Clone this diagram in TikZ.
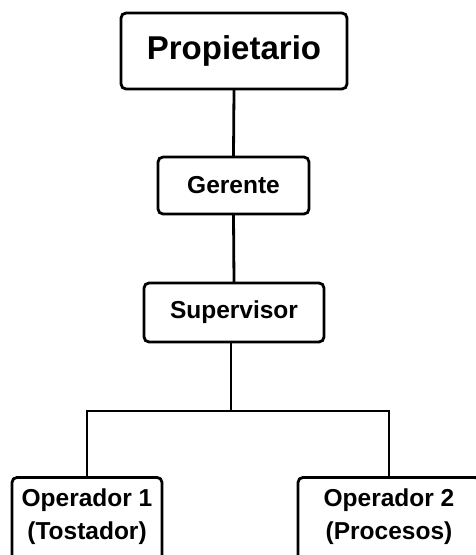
\documentclass[tikz,border=0pt]{standalone}
\usepackage{fontspec}
\setmainfont{Liberation Sans}
\begin{document}
\begin{tikzpicture}[x=1pt,y=1pt,
  box/.style={draw=black, line width=2.8pt, rounded corners=5pt, fill=white, inner sep=0pt},
  bigtxt/.style={font=\fontsize{33}{38}\selectfont\bfseries},
  midtxt/.style={font=\fontsize{24.5}{33}\selectfont\bfseries},
  conn/.style={line width=2.8pt, line cap=rect}]
\useasboundingbox (0,0) rectangle (476,-555);
\clip (0,0) rectangle (476,-555);
\node[box, bigtxt, minimum width=226, minimum height=76] (prop) at (234,-51) {Propietario};
\node[box, midtxt, minimum width=151, minimum height=57] (ger) at (233.5,-185.5) {Gerente};
\node[box, midtxt, minimum width=180, minimum height=59] (sup) at (234,-312.5) {Supervisor};
\node[box, minimum width=150, minimum height=130, anchor=north] (op1) at (87,-476) {};
\node[box, minimum width=182, minimum height=130, anchor=north] (op2) at (389,-476) {};
\node[midtxt, align=center, anchor=north, inner sep=0pt] (op1t) at (87,-489) {Operador 1\\(Tostador)};
\node[midtxt, align=center, anchor=north, inner sep=0pt] (op2t) at (389,-489) {Operador 2\\(Procesos)};
\coordinate (j) at (231,-411);
\draw[conn] (prop.south) -- (ger.north);
\draw[conn] (ger.south) -- (sup.north);
\draw[conn] (j |- sup.south) -- (j);
\draw[conn] (op1.north) |- (j) -| (op2.north);
\end{tikzpicture}
\end{document}
